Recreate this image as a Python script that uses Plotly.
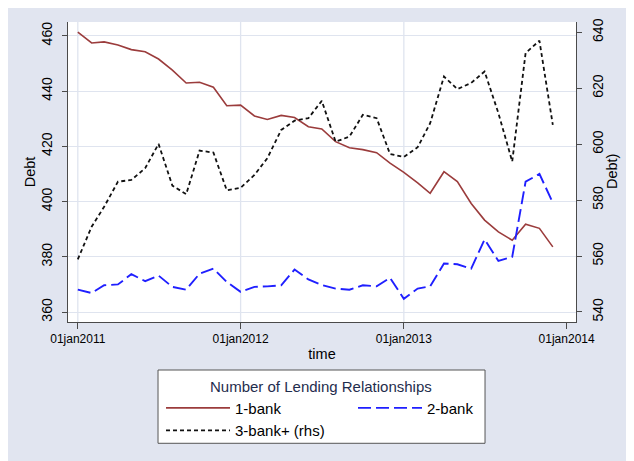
import plotly.graph_objects as go

months = [
    "2011-01-01", "2011-02-01", "2011-03-01", "2011-04-01", "2011-05-01", "2011-06-01",
    "2011-07-01", "2011-08-01", "2011-09-01", "2011-10-01", "2011-11-01", "2011-12-01",
    "2012-01-01", "2012-02-01", "2012-03-01", "2012-04-01", "2012-05-01", "2012-06-01",
    "2012-07-01", "2012-08-01", "2012-09-01", "2012-10-01", "2012-11-01", "2012-12-01",
    "2013-01-01", "2013-02-01", "2013-03-01", "2013-04-01", "2013-05-01", "2013-06-01",
    "2013-07-01", "2013-08-01", "2013-09-01", "2013-10-01", "2013-11-01", "2013-12-01",
]

one_bank = [461.3, 457.4, 457.8, 456.7, 455.0, 454.2, 451.6, 447.6, 442.9, 443.2, 441.4, 434.7,
            434.9, 431.0, 429.7, 431.2, 430.4, 427.1, 426.3, 421.7, 419.5, 418.8, 417.7, 413.9,
            410.6, 406.8, 403.0, 410.8, 407.2, 399.3, 393.3, 389.0, 386.0, 391.8, 390.3, 383.6]

two_bank = [368.1, 366.9, 369.7, 370.0, 373.7, 371.2, 373.2, 369.1, 368.1, 373.9, 375.7, 370.9,
            367.3, 369.1, 369.3, 369.7, 375.4, 371.8, 369.8, 368.5, 368.1, 369.7, 369.3, 372.4,
            364.8, 368.5, 369.3, 377.6, 377.3, 375.7, 386.3, 378.5, 380.0, 407.2, 410.0, 399.6]

three_bank = [558.8, 570.5, 577.6, 586.6, 587.2, 591.4, 600.1, 585.2, 582.1, 597.7, 597.0, 583.5,
              584.4, 589.0, 595.0, 605.1, 608.4, 609.3, 615.5, 600.9, 602.7, 610.5, 609.3, 596.5,
              595.4, 598.9, 607.5, 624.2, 619.7, 621.9, 626.0, 611.1, 593.8, 632.6, 637.0, 606.9]

x_tick_vals = ["2011-01-01", "2012-01-01", "2013-01-01", "2014-01-01"]
x_tick_text = ["01jan2011", "01jan2012", "01jan2013", "01jan2014"]
left_ticks = [360, 380, 400, 420, 440, 460]
right_ticks = [540, 560, 580, 600, 620, 640]

FONT = "Liberation Sans, Arial, Helvetica, sans-serif"
BG = "#e1e5f0"
GRID = "#dfe4ef"
AXIS = "#4a4a4a"

fig = go.Figure()
fig.add_trace(go.Scatter(x=months, y=one_bank, name="1-bank", mode="lines",
                         line=dict(color="#9b3c3c", width=1.6), yaxis="y"))
fig.add_trace(go.Scatter(x=months, y=two_bank, name="2-bank", mode="lines",
                         line=dict(color="#1f1fff", width=1.9, dash="13px,5px"), yaxis="y"))
fig.add_trace(go.Scatter(x=months, y=three_bank, name="3-bank+ (rhs)", mode="lines",
                         line=dict(color="#111111", width=1.8, dash="4px,3px"), yaxis="y2"))

shapes = []
# vertical grid lines at tick dates (Stata omits the one at the axis end)
for d in x_tick_vals[:-1]:
    shapes.append(dict(type="line", xref="x", yref="paper", x0=d, x1=d, y0=0, y1=1,
                       line=dict(color=GRID, width=1.3), layer="below"))
# legend box
shapes.append(dict(type="rect", xref="paper", yref="paper", x0=0.1772, x1=0.8209,
                   y0=-0.4043, y1=-0.16, fillcolor="white",
                   line=dict(color="#555555", width=1), layer="below"))

fig.update_layout(
    width=626, height=453,
    margin=dict(l=60, r=58, t=14, b=139, pad=0, autoexpand=False),
    paper_bgcolor=BG, plot_bgcolor="white",
    font=dict(family=FONT, size=12, color="black"),
    shapes=shapes,
    showlegend=True,
    legend=dict(orientation="h", x=0.1831, y=-0.232, xanchor="left", yanchor="top",
                bgcolor="rgba(0,0,0,0)", borderwidth=0, entrywidth=113,
                itemwidth=64, font=dict(family=FONT, size=15, color="black"),
                traceorder="normal"),
    annotations=[
        dict(text="Number of Lending Relationships", xref="paper", yref="paper",
             x=0.499, y=-0.2157, xanchor="center", yanchor="middle",
             showarrow=False, font=dict(family=FONT, size=15, color="#1f2d4d")),
        dict(text="Debt)", xref="paper", yref="paper", x=1.0709, y=0.5,
             xanchor="center", yanchor="middle", textangle=-90,
             showarrow=False, font=dict(family=FONT, size=14.5, color="black")),
    ],
    xaxis=dict(type="date", range=["2010-12-10", "2014-01-22"],
               tickvals=x_tick_vals, ticktext=x_tick_text, tickangle=0,
               ticks="outside", ticklen=6, tickcolor=AXIS, tickwidth=1,
               showline=True, linecolor=AXIS, linewidth=1, showgrid=False, zeroline=False,
               tickfont=dict(size=12),
               title=dict(text="time", font=dict(size=14.5), standoff=3)),
    yaxis=dict(range=[356.4, 465.0], tickvals=left_ticks, tickangle=-90,
               ticks="outside", ticklen=5, tickcolor=AXIS, tickwidth=1,
               ticklabelstandoff=4,
               showline=True, linecolor=AXIS, linewidth=1,
               showgrid=True, gridcolor=GRID, gridwidth=1.3, zeroline=False,
               tickfont=dict(size=14),
               title=dict(text="Debt", font=dict(size=14.5), standoff=0)),
    yaxis2=dict(range=[536.4, 643.7], tickvals=right_ticks, tickangle=-90,
                overlaying="y", side="right",
                ticks="outside", ticklen=5, tickcolor=AXIS, tickwidth=1,
                ticklabelstandoff=4,
                showline=True, linecolor=AXIS, linewidth=1,
                showgrid=False, zeroline=False,
                tickfont=dict(size=14)),
)

fig.write_html("out.html")
